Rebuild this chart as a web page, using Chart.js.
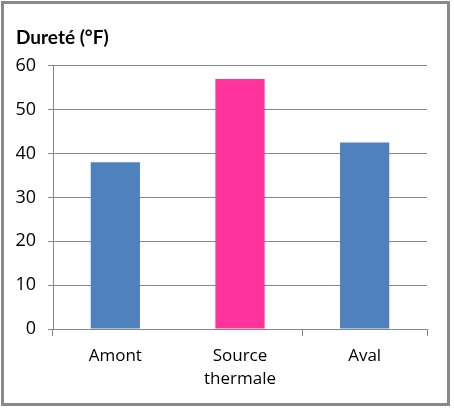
<!DOCTYPE html>
<html>
<head>
<meta charset="utf-8">
<script src="https://cdn.jsdelivr.net/npm/chart.js@4.4.1/dist/chart.umd.min.js"></script>
<style>
  html, body { margin: 0; padding: 0; background: #fff; }
  #wrap { position: relative; width: 454px; height: 420px; }
  #frame { position: absolute; left: 1px; top: 1px; width: 449px; height: 405px; box-sizing: border-box; border: 3px solid #898989; pointer-events: none; }
  canvas { position: absolute; left: 0; top: 0; }
</style>
</head>
<body>
<div id="wrap">
  <canvas id="c" width="454" height="420"></canvas>
  <div id="frame"></div>
</div>
<script>
const categories = [["Amont"], ["Source", "thermale"], ["Aval"]];
const hardness = [38, 57, 42.5];
const barColors = ["#4F81BD", "#FF3399", "#4F81BD"];
const yTicks = [0, 10, 20, 30, 40, 50, 60];
const titleText = "Dureté (°F)";

const gridColor = "#878787";
const fontFamily = "'Open Sans', 'DejaVu Sans', sans-serif";

new Chart(document.getElementById("c"), {
  type: "bar",
  data: {
    labels: categories,
    datasets: [{
      data: hardness,
      backgroundColor: barColors,
      borderWidth: 0,
      categoryPercentage: 1,
      barPercentage: 0.395
    }]
  },
  options: {
    responsive: false,
    animation: false,
    events: [],
    layout: { padding: { left: 16, right: 27, top: 0, bottom: 0 } },
    plugins: {
      legend: { display: false },
      tooltip: { enabled: false },
      title: {
        display: true,
        text: titleText,
        align: "start",
        color: "#000",
        font: { family: "Lato, 'Open Sans', sans-serif", size: 19, weight: "bold", lineHeight: 1.2 },
        padding: { top: 26, bottom: 17 }
      }
    },
    scales: {
      x: {
        offset: true,
        grid: {
          display: true,
          offset: true,
          drawOnChartArea: false,
          drawTicks: true,
          tickLength: 7,
          color: (ctx) => ctx.index === 1 ? "rgba(0,0,0,0)" : gridColor,
          lineWidth: 1
        },
        border: { display: true, color: gridColor, width: 1 },
        ticks: {
          color: "#000",
          padding: 8,
          font: { family: fontFamily, size: 17, lineHeight: 1.38 },
          maxRotation: 0
        },
        afterFit: (s) => { s.height = 91; }
      },
      y: {
        min: 0,
        max: 60,
        afterBuildTicks: (s) => { s.ticks = yTicks.map(v => ({ value: v })); },
        grid: {
          color: gridColor,
          lineWidth: 1,
          drawTicks: true,
          tickLength: 5
        },
        border: { display: true, color: gridColor, width: 1 },
        ticks: {
          color: "#000",
          padding: 12,
          font: { family: fontFamily, size: 18 }
        },
        afterFit: (s) => { s.width = 37; }
      }
    }
  }
});
</script>
</body>
</html>
